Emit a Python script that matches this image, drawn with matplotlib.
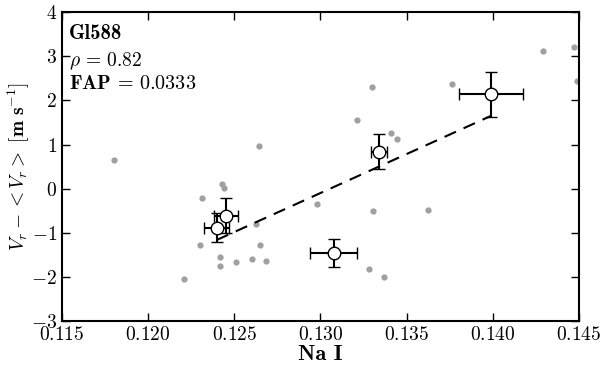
import numpy as np
import matplotlib
matplotlib.use("Agg")
import matplotlib.pyplot as plt

plt.rcParams["font.family"] = "cmr10"
plt.rcParams["mathtext.fontset"] = "cm"
plt.rcParams["axes.formatter.use_mathtext"] = True
plt.rcParams["font.size"] = 14

# individual measurements (grey)
na_x = [0.1180, 0.12641, 0.12432, 0.12440, 0.12316, 0.12981, 0.12626,
        0.13213, 0.13409, 0.13442, 0.13306, 0.13622, 0.13300, 0.13763,
        0.14289, 0.14473, 0.14488, 0.12302, 0.12651, 0.12419, 0.12419,
        0.12512, 0.12603, 0.12682, 0.12209, 0.13281, 0.13368]
vr_y = [0.66, 0.96, 0.10, 0.01, -0.22, -0.35, -0.81,
        1.56, 1.26, 1.13, -0.50, -0.48, 2.30, 2.38,
        3.12, 3.21, 2.44, -1.27, -1.28, -1.55, -1.75,
        -1.66, -1.60, -1.63, -2.04, -1.81, -1.99]

# binned values
bin_x = [0.12399, 0.12453, 0.13077, 0.13341, 0.13990]
bin_y = [-0.88, -0.61, -1.46, 0.84, 2.14]
bin_xerr = [0.00073, 0.00068, 0.00136, 0.00045, 0.00184]
bin_yerr = [0.33, 0.40, 0.32, 0.40, 0.51]

fit_slope = 176.7
fit_intercept = -23.07

star = "Gl588"
rho = 0.82
fap = 0.0333

fig = plt.figure(figsize=(6, 3.67), dpi=100)
ax = fig.add_axes([0.103, 0.125, 0.862, 0.842])

ax.plot(na_x, vr_y, "o", color="#a0a0a0", ms=4.5, mec="none")

xx = np.array([min(bin_x), max(bin_x)])
ax.plot(xx, fit_intercept + fit_slope * xx, "k--", lw=1.5, dashes=(6, 4))

ax.errorbar(bin_x, bin_y, xerr=bin_xerr, yerr=bin_yerr, fmt="o",
            mfc="white", mec="black", ms=9, mew=1.0, ecolor="black",
            elinewidth=1.5, capsize=4, capthick=1.5, zorder=5)

ax.set_xlim(0.115, 0.145)
ax.set_ylim(-3, 4)
ax.set_xticks(np.arange(0.115, 0.1451, 0.005))
ax.xaxis.set_major_formatter(matplotlib.ticker.FuncFormatter(lambda v, p: "$%.3f$" % v))
ax.tick_params(direction="in", top=True, right=True, length=6, width=1)
for s in ax.spines.values():
    s.set_linewidth(1.5)

ax.set_xlabel("Na I", family="cmb10", fontsize=16, labelpad=1)
ax.set_ylabel(r"$V_r - <V_r>\ \mathbf{[m\ s^{-1}]}$", fontsize=14, labelpad=-1)

ax.text(0.013, 0.96, star, family="cmb10", fontsize=15, transform=ax.transAxes, va="top")
ax.text(0.013, 0.875, r"$\rho\, =\, %.2f$" % rho, fontsize=14, transform=ax.transAxes, va="top")
ax.text(0.013, 0.795, r"$\mathbf{FAP}\, =\, %.4f$" % fap, fontsize=14.5, transform=ax.transAxes, va="top")

fig.savefig("out.png", dpi=100)
